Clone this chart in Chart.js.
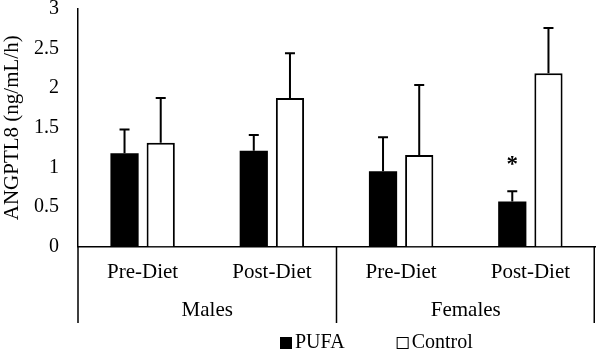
<!DOCTYPE html>
<html><head><meta charset="utf-8">
<script src="https://cdn.jsdelivr.net/npm/chart.js@4"></script>
<style>html,body{margin:0;padding:0;background:#fff}#wrap{width:596px;height:351px;position:relative}</style>
</head><body><div id="wrap"><canvas id="c"></canvas></div>
<script>
const conditions = ['Pre-Diet', 'Post-Diet', 'Pre-Diet', 'Post-Diet'];
const groups = ['Males', 'Females'];
const seriesNames = ['PUFA', 'Control'];
const pufaMean = [1.18, 1.21, 0.95, 0.57];
const pufaErr = [0.30, 0.20, 0.43, 0.13];
const controlMean = [1.31, 1.875, 1.155, 2.19];
const controlErr = [0.565, 0.565, 0.885, 0.57];
const pufaMarks = ['', '', '', '*'];
const yTitle = 'ANGPTL8 (ng/mL/h)';

const FONT = "'Liberation Serif', 'Times New Roman', serif";

const errorBars = {
  id: 'errorBars',
  afterDatasetsDraw(chart) {
    const ctx = chart.ctx, y = chart.scales.y;
    chart.data.datasets.forEach((ds, i) => {
      const meta = chart.getDatasetMeta(i);
      meta.data.forEach((bar, j) => {
        const top = y.getPixelForValue(ds.data[j] + ds.errors[j]);
        ctx.save();
        ctx.strokeStyle = '#000';
        ctx.lineWidth = 2;
        ctx.beginPath();
        ctx.moveTo(bar.x, bar.y);
        ctx.lineTo(bar.x, top);
        ctx.moveTo(bar.x - 5, top);
        ctx.lineTo(bar.x + 5, top);
        ctx.stroke();
        if (ds.marks && ds.marks[j]) {
          ctx.fillStyle = '#000';
          ctx.font = "bold 23px " + FONT;
          ctx.textAlign = 'center';
          ctx.textBaseline = 'middle';
          ctx.fillText(ds.marks[j], bar.x, top - 26);
        }
        ctx.restore();
      });
    });
  }
};

const groupDividers = {
  id: 'groupDividers',
  afterDraw(chart) {
    const ctx = chart.ctx, g = chart.scales.x2, area = chart.chartArea;
    const n = groups.length;
    ctx.save();
    ctx.strokeStyle = '#000';
    ctx.lineWidth = 1.5;
    ctx.beginPath();
    for (let i = 0; i <= n; i++) {
      let px;
      if (i === 0) px = g.left;
      else if (i === n) px = g.right - 0.75;
      else px = (g.getPixelForValue(i - 1) + g.getPixelForValue(i)) / 2;
      ctx.moveTo(px, area.bottom);
      ctx.lineTo(px, g.bottom);
    }
    ctx.stroke();
    ctx.restore();
  }
};

const legendBox = {
  id: 'legendBox',
  afterDraw(chart) {
    const ctx = chart.ctx;
    ctx.save();
    ctx.font = "20px " + FONT;
    ctx.textBaseline = 'middle';
    let x = 280;
    const yc = 343, box = 12, gap = 3, spacing = 52;
    chart.data.datasets.forEach(ds => {
      ctx.fillStyle = ds.backgroundColor;
      ctx.fillRect(x, yc - box / 2, box, box);
      ctx.lineWidth = 1;
      ctx.strokeStyle = '#000';
      ctx.strokeRect(x + 0.5, yc - box / 2 + 0.5, box - 1, box - 1);
      ctx.fillStyle = '#000';
      ctx.fillText(ds.label, x + box + gap, yc);
      x += box + gap + ctx.measureText(ds.label).width + spacing;
    });
    ctx.restore();
  }
};

new Chart(document.getElementById('c'), {
  type: 'bar',
  data: {
    labels: conditions,
    datasets: [
      { label: seriesNames[0], data: pufaMean, errors: pufaErr, marks: pufaMarks,
        backgroundColor: '#000', borderColor: '#000', borderWidth: 0,
        categoryPercentage: 0.56, barPercentage: 0.78 },
      { label: seriesNames[1], data: controlMean, errors: controlErr,
        backgroundColor: '#fff', borderColor: '#000', borderWidth: 2,
        categoryPercentage: 0.56, barPercentage: 0.78 }
    ]
  },
  options: {
    responsive: true,
    maintainAspectRatio: false,
    animation: false,
    layout: { padding: { top: 0, right: 1, bottom: 28, left: 0 } },
    plugins: { legend: { display: false }, tooltip: { enabled: false } },
    scales: {
      x: {
        position: 'bottom',
        weight: 0,
        grid: { display: false, drawTicks: false },
        border: { display: true, color: '#000', width: 1.5 },
        ticks: { color: '#000', font: { family: FONT, size: 21 }, padding: 13, maxRotation: 0, autoSkip: false }
      },
      x2: {
        type: 'category',
        labels: groups,
        position: 'bottom',
        weight: 1,
        offset: true,
        grid: { display: false, drawTicks: false },
        border: { display: false },
        ticks: { color: '#000', font: { family: FONT, size: 21 }, padding: 0, maxRotation: 0 }
      },
      y: {
        min: 0, max: 3,
        grid: { display: false, drawTicks: false },
        border: { display: true, color: '#000', width: 1.5 },
        ticks: { stepSize: 0.5, color: '#000', font: { family: FONT, size: 20 }, padding: 19,
                 callback: (v) => String(v) },
        title: { display: true, text: yTitle, color: '#000', font: { family: FONT, size: 21 }, padding: { top: 0, bottom: 0 } },
        afterFit: (s) => { s.width = 78; s.paddingTop = 9; s.paddingBottom = 0; }
      }
    }
  },
  plugins: [errorBars, groupDividers, legendBox]
});
</script>
</body></html>
